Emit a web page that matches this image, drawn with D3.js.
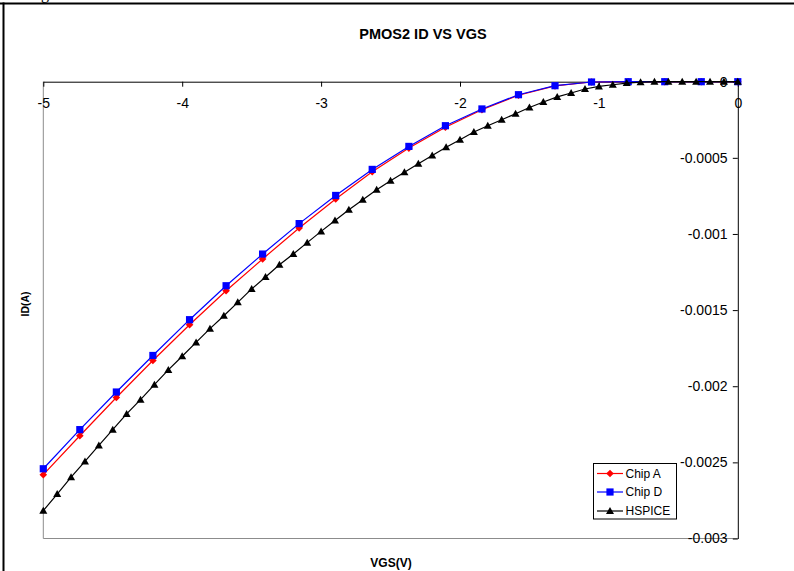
<!DOCTYPE html>
<html><head><meta charset="utf-8">
<script src="https://cdn.jsdelivr.net/npm/d3@7"></script>
<style>
html,body{margin:0;padding:0;background:#fff;}
svg{display:block;}
text{font-family:Arial,"Liberation Sans",sans-serif;}
</style></head>
<body>
<script>
const titleText = "PMOS2 ID VS VGS";
const xLabel = "VGS(V)";
const yLabel = "ID(A)";
const seriesNames = ["Chip A", "Chip D", "HSPICE"];
const xTicks = [-5, -4, -3, -2, -1, 0];
const xTickLabels = ["-5", "-4", "-3", "-2", "-1", "0"];
const yTicks = [0, -0.0005, -0.001, -0.0015, -0.002, -0.0025, -0.003];
const yTickLabels = ["0", "-0.0005", "-0.001", "-0.0015", "-0.002", "-0.0025", "-0.003"];

const chipX = [-5, -4.737, -4.474, -4.211, -3.947, -3.684, -3.421, -3.158, -2.895, -2.632,
  -2.368, -2.105, -1.842, -1.579, -1.316, -1.053, -0.789, -0.526, -0.263, 0];
const chipA = [-0.002581, -0.002325, -0.002074, -0.001831, -0.001596, -0.001373, -0.001164, -0.000961, -0.000770, -0.000591,
  -0.000436, -0.000299, -0.000184, -0.0000887, -0.0000279, -0.000002, 0, 0, 0, 0];
const chipD = [-0.002542, -0.002285, -0.002038, -0.001798, -0.001563, -0.001340, -0.001132, -0.000932, -0.000747, -0.000576,
  -0.000425, -0.000289, -0.000179, -0.0000854, -0.0000263, -0.000002, 0, 0, 0, 0];

const hspiceX = [-5.0, -4.9, -4.8, -4.7, -4.6, -4.5, -4.4, -4.3, -4.2, -4.1,
  -4.0, -3.9, -3.8, -3.7, -3.6, -3.5, -3.4, -3.3, -3.2, -3.1,
  -3.0, -2.9, -2.8, -2.7, -2.6, -2.5, -2.4, -2.3, -2.2, -2.1,
  -2.0, -1.9, -1.8, -1.7, -1.6, -1.5, -1.4, -1.3, -1.2, -1.1,
  -1.0, -0.9, -0.8, -0.7, -0.6, -0.5, -0.4, -0.3, -0.2, -0.1, 0];
const hspice = [-0.002817, -0.002708, -0.002597, -0.002494, -0.002389, -0.002285, -0.002182, -0.002088, -0.001990, -0.001893,
  -0.001803, -0.001712, -0.001622, -0.001537, -0.001449, -0.001361, -0.001283, -0.001202, -0.001131, -0.001057,
  -0.000983, -0.000911, -0.000841, -0.000775, -0.000709, -0.000650, -0.000594, -0.000539, -0.000484, -0.000431,
  -0.000381, -0.000330, -0.000289, -0.000250, -0.000210, -0.000169, -0.000133, -0.000100, -0.000074, -0.000048,
  -0.000031, -0.000020, -0.000009, -0.000003, 0, 0, 0, 0, 0, 0, 0];

const W = 794, H = 571;
const svg = d3.select("body").append("svg").attr("width", W).attr("height", H);

// page frame lines (and the descender of a glyph from the text above)
svg.append("text").attr("x", 41).attr("y", -1.5).attr("font-size", 16)
  .style("font-family", "'Liberation Serif', serif").text("g");
svg.append("line").attr("x1", 0).attr("x2", W).attr("y1", 3.5).attr("y2", 3.5)
  .attr("stroke", "#000").attr("stroke-width", 2);
svg.append("line").attr("x1", 3.5).attr("x2", 3.5).attr("y1", 2.5).attr("y2", H)
  .attr("stroke", "#000").attr("stroke-width", 2);

const x = d3.scaleLinear().domain([-5, 0]).range([43.3, 737.8]);
const y = d3.scaleLinear().domain([0, -0.003]).range([81.7, 538.5]);

// plot area border (left & bottom grey)
svg.append("line").attr("x1", x(-5)).attr("x2", x(-5)).attr("y1", y(0)).attr("y2", y(-0.003))
  .attr("stroke", "#8c8c8c").attr("stroke-width", 1);
svg.append("line").attr("x1", x(-5)).attr("x2", x(0)).attr("y1", y(-0.003)).attr("y2", y(-0.003))
  .attr("stroke", "#8c8c8c").attr("stroke-width", 1);

// x axis on top (at y = 0)
const xAxis = d3.axisBottom(x).tickValues(xTicks)
  .tickFormat((d, i) => xTickLabels[i]).tickSize(5).tickSizeOuter(0).tickPadding(11.3);
const gx = svg.append("g").attr("transform", `translate(0,${y(0)})`).call(xAxis);
gx.selectAll("text").attr("font-size", 14).style("font-family", "Arial,'Liberation Sans',sans-serif").attr("fill", "#000");
gx.selectAll("line,path").attr("stroke", "#000");

// y axis on right (at x = 0)
const yAxis = d3.axisLeft(y).tickValues(yTicks)
  .tickFormat((d, i) => yTickLabels[i]).tickSize(5).tickSizeOuter(0).tickPadding(5.3);
const gy = svg.append("g").attr("transform", `translate(${x(0)},0)`).call(yAxis);
gy.selectAll("text").attr("font-size", 14).style("font-family", "Arial,'Liberation Sans',sans-serif").attr("fill", "#000");
gy.selectAll("line,path").attr("stroke", "#000");

// title and axis labels
svg.append("text").attr("x", 423).attr("y", 38.5).attr("text-anchor", "middle")
  .attr("font-size", 14.5).attr("font-weight", "bold").text(titleText);
svg.append("text").attr("x", 391).attr("y", 567).attr("text-anchor", "middle")
  .attr("font-size", 12).attr("font-weight", "bold").text(xLabel);
svg.append("text").attr("transform", "translate(29,304) rotate(-90)").attr("text-anchor", "middle")
  .attr("font-size", 10.5).attr("font-weight", "bold").text(yLabel);

// marker shapes
const diamond = "M0,-3.8L3.8,0L0,3.8L-3.8,0Z";
const square = "M-3.6,-3.6H3.6V3.6H-3.6Z";
const triangle = "M0,-4L4,3L-4,3Z";

const series = [
  {name: seriesNames[0], xs: chipX, ys: chipA, color: "#ff0000", marker: diamond},
  {name: seriesNames[1], xs: chipX, ys: chipD, color: "#0000ff", marker: square},
  {name: seriesNames[2], xs: hspiceX, ys: hspice, color: "#000000", marker: triangle}
];

const line = d3.line().x(d => x(d[0])).y(d => y(d[1]));
series.forEach(s => {
  const pts = s.xs.map((v, i) => [v, s.ys[i]]);
  svg.append("path").datum(pts).attr("d", line).attr("fill", "none")
    .attr("stroke", s.color).attr("stroke-width", 1.2);
  svg.append("g").selectAll("path").data(pts).join("path")
    .attr("transform", d => `translate(${x(d[0])},${y(d[1])})`)
    .attr("d", s.marker).attr("fill", s.color);
});

// legend
const lg = svg.append("g");
lg.append("rect").attr("x", 593.5).attr("y", 463.5).attr("width", 83).attr("height", 55.5)
  .attr("fill", "#fff").attr("stroke", "#000").attr("stroke-width", 1);
const rowY = [473.5, 492, 511];
series.forEach((s, i) => {
  lg.append("line").attr("x1", 597).attr("x2", 623).attr("y1", rowY[i]).attr("y2", rowY[i])
    .attr("stroke", s.color).attr("stroke-width", 1.2);
  lg.append("path").attr("transform", `translate(610,${rowY[i]})`).attr("d", s.marker).attr("fill", s.color);
  lg.append("text").attr("x", 625.5).attr("y", rowY[i] + 4.3).attr("font-size", 12).text(s.name);
});
</script>
</body></html>
